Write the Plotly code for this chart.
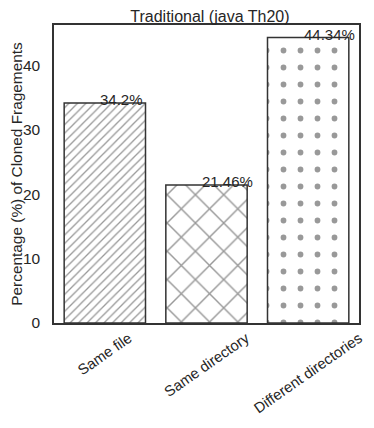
import plotly.graph_objects as go

categories = ["Same file", "Same directory", "Different directories"]
percentages = [34.2, 21.46, 44.34]
labels = ["34.2%", "21.46%", "44.34%"]
hatches = ["/", "x", "."]
hatch_sizes = [6, 20, 17]
hatch_solidity = [0.22, 0.14, 0.09]

EDGE = "#333333"
TEXT = "#262626"
FONT = "Liberation Sans"

fig = go.Figure()
for i, val in enumerate(percentages):
    fig.add_trace(
        go.Bar(
            x=[i],
            y=[val],
            width=0.8,
            marker={
                "color": "white",
                "line": {"color": EDGE, "width": 1.5},
                "pattern": {
                    "shape": hatches[i],
                    "size": hatch_sizes[i],
                    "solidity": hatch_solidity[i],
                    "fgcolor": EDGE,
                    "bgcolor": "white",
                },
            },
            showlegend=False,
            hoverinfo="skip",
        )
    )
    # value label, left-aligned just left of the bar centre
    fig.add_annotation(
        x=i - 0.065,
        y=val,
        text=labels[i],
        showarrow=False,
        xanchor="left",
        yanchor="bottom",
        yshift=-7,
        font={"size": 15, "color": TEXT, "family": FONT},
    )
    # rotated category label centred under the bar (matplotlib style)
    fig.add_annotation(
        x=i,
        y=0,
        yref="paper",
        text=categories[i],
        showarrow=False,
        textangle=-35,
        xanchor="center",
        yanchor="top",
        yshift=-4,
        font={"size": 14.8, "color": TEXT, "family": FONT},
    )

# page body has an 8px margin, so the figure is 16px smaller than the window
fig.update_layout(
    width=358,
    height=412,
    title={
        "text": "Traditional (java Th20)",
        "x": 0.564,
        "xanchor": "center",
        "y": 0.994,
        "yref": "container",
        "yanchor": "top",
        "pad": {"t": 0, "b": 0},
        "font": {"size": 16, "color": TEXT, "family": FONT},
    },
    plot_bgcolor="white",
    paper_bgcolor="white",
    margin={"l": 46, "r": 7, "t": 17, "b": 97},
    font={"family": FONT, "color": TEXT},
    xaxis={
        "range": [-0.5, 2.5],
        "showticklabels": False,
        "showline": True,
        "linecolor": EDGE,
        "linewidth": 1.5,
        "mirror": True,
        "showgrid": False,
        "zeroline": False,
        "ticks": "",
        "automargin": False,
    },
    yaxis={
        "range": [0, 46.3],
        "tickvals": [0, 10, 20, 30, 40],
        "tickfont": {"size": 15.5},
        "ticklabelstandoff": 9,
        "title": {"text": "Percentage (%) of Cloned Fragements", "font": {"size": 15.4}, "standoff": 6},
        "showline": True,
        "linecolor": EDGE,
        "linewidth": 1.5,
        "mirror": True,
        "showgrid": False,
        "zeroline": False,
        "ticks": "",
        "automargin": False,
    },
)

fig.write_html("out.html")
